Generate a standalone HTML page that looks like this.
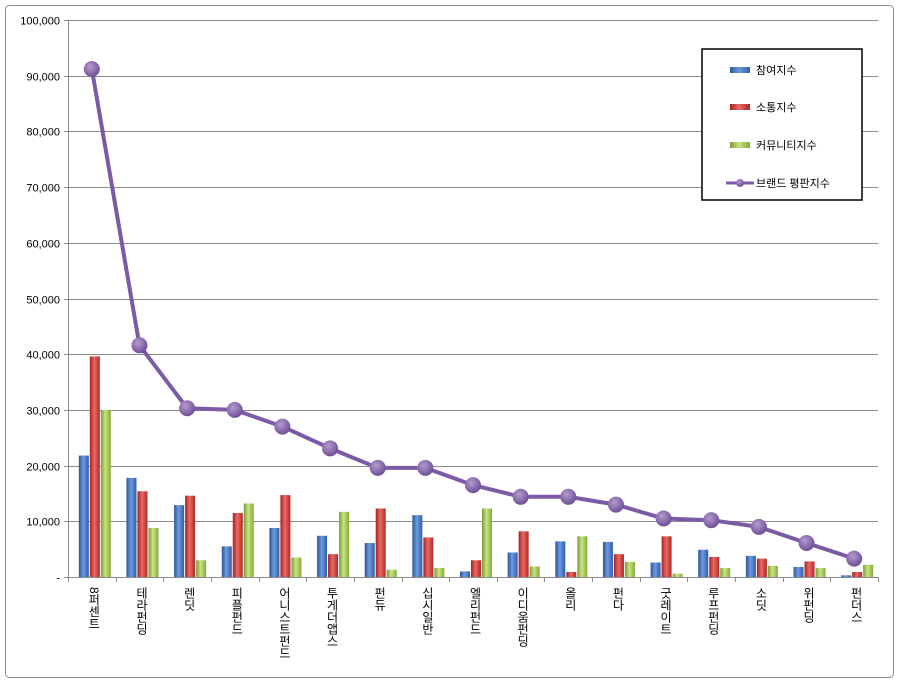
<!DOCTYPE html>
<html><head><meta charset="utf-8"><style>
body{margin:0;background:#fff;position:relative;width:900px;height:684px;overflow:hidden;}
svg{position:absolute;left:0;top:0;}
svg text{font-family:"Liberation Sans","Noto Sans CJK KR",sans-serif;}
.cl{position:absolute;top:587px;writing-mode:vertical-rl;text-orientation:mixed;font-family:"Liberation Sans","Noto Sans CJK KR",sans-serif;font-size:12px;line-height:14px;width:14px;color:#000;}
</style></head><body>
<svg width="900" height="684" xmlns="http://www.w3.org/2000/svg">
<defs>
<linearGradient id="gb" x1="0" x2="1"><stop offset="0" stop-color="#2a5598"/><stop offset="0.45" stop-color="#6d9ae0"/><stop offset="1" stop-color="#2f5ea8"/></linearGradient>
<linearGradient id="gr" x1="0" x2="1"><stop offset="0" stop-color="#a3201e"/><stop offset="0.45" stop-color="#ea6a66"/><stop offset="1" stop-color="#b02725"/></linearGradient>
<linearGradient id="gg" x1="0" x2="1"><stop offset="0" stop-color="#7d9a31"/><stop offset="0.45" stop-color="#c8e486"/><stop offset="1" stop-color="#87a838"/></linearGradient>
<radialGradient id="gp" cx="0.4" cy="0.35" r="0.7"><stop offset="0" stop-color="#b49ad0"/><stop offset="1" stop-color="#6a4a92"/></radialGradient>
</defs>
<rect x="5.5" y="5.5" width="888" height="672" rx="4" fill="#fff" stroke="#8c8c8c"/>
<g id="grid" stroke="#8c8c8c" stroke-width="1"></g>
<g id="bars"></g>
<g id="labels" font-size="11" fill="#000"></g>
<rect x="702" y="49" width="160" height="151" fill="#fff" stroke="#000" stroke-width="1.5"/>
<rect x="730" y="67" width="20" height="6" fill="url(#gb)"/>
<text x="756" y="74" font-size="11">참여지수</text>
<rect x="730" y="104" width="20" height="6" fill="url(#gr)"/>
<text x="756" y="111" font-size="11">소통지수</text>
<rect x="730" y="142" width="20" height="6" fill="url(#gg)"/>
<text x="756" y="149" font-size="11">커뮤니티지수</text>
<line x1="726" y1="183" x2="754" y2="183" stroke="#7b5aa6" stroke-width="3"/>
<circle cx="740" cy="183" r="4" fill="url(#gp)"/>
<text x="756" y="187" font-size="11">브랜드 평판지수</text>
</svg>
<script>
const names=["8퍼센트","테라펀딩","렌딧","피플펀드","어니스트펀드","투게더앱스","펀듀","십시일반","엘리펀드","이디움펀딩","올리","펀다","굿레이트","루프펀딩","소딧","위펀딩","펀더스"];
const B=[21.8,17.8,12.9,5.5,8.8,7.4,6.1,11.1,1.0,4.4,6.4,6.3,2.6,4.9,3.8,1.8,0.3];
const R=[39.6,15.4,14.6,11.5,14.7,4.1,12.3,7.1,3.0,8.2,0.9,4.1,7.3,3.6,3.3,2.8,0.9];
const G=[30.0,8.8,3.0,13.2,3.5,11.7,1.3,1.6,12.3,1.9,7.3,2.7,0.6,1.6,2.0,1.6,2.2];
const L=[91.2,41.6,30.3,30.0,27.0,23.1,19.6,19.6,16.5,14.4,14.4,13.0,10.5,10.2,9.0,6.1,3.3];
const ns="http://www.w3.org/2000/svg",svg=document.querySelector("svg");
const x0=68,x1=878,y0=577,sc=5.57,cw=(x1-x0)/17;
function el(t,a,p){const e=document.createElementNS(ns,t);for(const k in a)e.setAttribute(k,a[k]);(p||svg).appendChild(e);return e;}
const grid=document.getElementById("grid"),bars=document.getElementById("bars"),lab=document.getElementById("labels");
for(let i=0;i<=10;i++){const y=Math.round(y0-i*10*sc)+0.5;el("line",{x1:x0,x2:x1,y1:y,y2:y},grid);el("line",{x1:x0-4,x2:x0,y1:y,y2:y},grid);
 const t=el("text",{x:x0-8,y:y+4,"text-anchor":"end","font-size":"11"},lab);t.textContent=i==0?"-":(i*10)+",000";}
el("line",{x1:x0+0.5,x2:x0+0.5,y1:y0-557,y2:y0},grid);
for(let i=0;i<=17;i++){const x=Math.round(x0+i*cw)+0.5;el("line",{x1:x,x2:x,y1:y0,y2:y0+5},grid);}
const pts=[];
for(let i=0;i<17;i++){const c=x0+cw*(i+0.5);
 [[B,"url(#gb)",-13],[R,"url(#gr)",-2],[G,"url(#gg)",9]].forEach(([a,f,o])=>{const h=a[i]*sc;el("rect",{x:c+o,y:y0-h,width:10,height:h,fill:f},bars);});
 pts.push([c,y0-L[i]*sc]);
 const d=document.createElement("div");d.className="cl";d.style.left=(c-5)+"px";d.textContent=names[i];document.body.appendChild(d);}
el("polyline",{points:pts.map(p=>p.join(",")).join(" "),fill:"none",stroke:"#7b5aa6","stroke-width":"4"});
pts.forEach(p=>el("circle",{cx:p[0],cy:p[1],r:8,fill:"url(#gp)"}));
</script>
</body></html>
